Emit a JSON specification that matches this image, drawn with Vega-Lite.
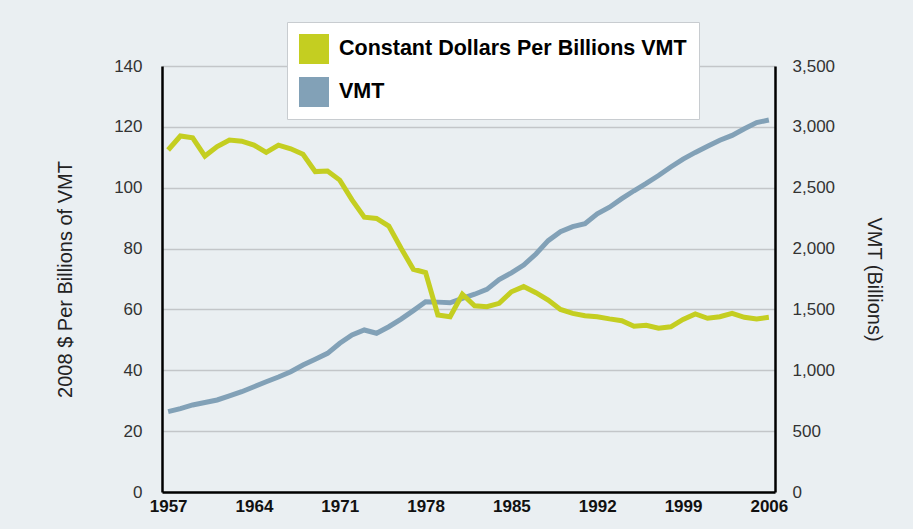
{
  "$schema": "https://vega.github.io/schema/vega-lite/v6.json",
  "autosize": "none",
  "width": 613,
  "height": 426,
  "padding": {"left": 162, "top": 66, "right": 138, "bottom": 37},
  "background": "#eaeff2",
  "config": {
    "view": {"stroke": null},
    "font": "Liberation Sans",
    "axis": {"labelFont": "Liberation Sans", "titleFont": "Liberation Sans"}
  },
  "datasets": {
    "cost": [
      {"year": 1957, "value": 112.4}, {"year": 1958, "value": 117.0}, {"year": 1959, "value": 116.4},
      {"year": 1960, "value": 110.4}, {"year": 1961, "value": 113.5}, {"year": 1962, "value": 115.7},
      {"year": 1963, "value": 115.3}, {"year": 1964, "value": 114.0}, {"year": 1965, "value": 111.6},
      {"year": 1966, "value": 114.0}, {"year": 1967, "value": 112.8}, {"year": 1968, "value": 111.0},
      {"year": 1969, "value": 105.3}, {"year": 1970, "value": 105.5}, {"year": 1971, "value": 102.5},
      {"year": 1972, "value": 96.0}, {"year": 1973, "value": 90.3}, {"year": 1974, "value": 89.9},
      {"year": 1975, "value": 87.4}, {"year": 1976, "value": 80.1}, {"year": 1977, "value": 73.2},
      {"year": 1978, "value": 72.1}, {"year": 1979, "value": 58.2}, {"year": 1980, "value": 57.6},
      {"year": 1981, "value": 65.0}, {"year": 1982, "value": 61.2}, {"year": 1983, "value": 60.9},
      {"year": 1984, "value": 62.0}, {"year": 1985, "value": 65.8}, {"year": 1986, "value": 67.5},
      {"year": 1987, "value": 65.5}, {"year": 1988, "value": 63.1}, {"year": 1989, "value": 60.0},
      {"year": 1990, "value": 58.7}, {"year": 1991, "value": 57.9}, {"year": 1992, "value": 57.6},
      {"year": 1993, "value": 56.9}, {"year": 1994, "value": 56.3}, {"year": 1995, "value": 54.5},
      {"year": 1996, "value": 54.8}, {"year": 1997, "value": 53.8}, {"year": 1998, "value": 54.3},
      {"year": 1999, "value": 56.7}, {"year": 2000, "value": 58.5}, {"year": 2001, "value": 57.1},
      {"year": 2002, "value": 57.6}, {"year": 2003, "value": 58.7}, {"year": 2004, "value": 57.4},
      {"year": 2005, "value": 56.9}, {"year": 2006, "value": 57.4}
    ],
    "vmt": [
      {"year": 1957, "value": 660}, {"year": 1958, "value": 685}, {"year": 1959, "value": 715},
      {"year": 1960, "value": 735}, {"year": 1961, "value": 756}, {"year": 1962, "value": 790},
      {"year": 1963, "value": 824}, {"year": 1964, "value": 865}, {"year": 1965, "value": 906},
      {"year": 1966, "value": 945}, {"year": 1967, "value": 988}, {"year": 1968, "value": 1043},
      {"year": 1969, "value": 1090}, {"year": 1970, "value": 1139}, {"year": 1971, "value": 1222},
      {"year": 1972, "value": 1290}, {"year": 1973, "value": 1331}, {"year": 1974, "value": 1304},
      {"year": 1975, "value": 1358}, {"year": 1976, "value": 1420}, {"year": 1977, "value": 1490},
      {"year": 1978, "value": 1563}, {"year": 1979, "value": 1560}, {"year": 1980, "value": 1555},
      {"year": 1981, "value": 1591}, {"year": 1982, "value": 1625}, {"year": 1983, "value": 1665},
      {"year": 1984, "value": 1745}, {"year": 1985, "value": 1800}, {"year": 1986, "value": 1865},
      {"year": 1987, "value": 1955}, {"year": 1988, "value": 2065}, {"year": 1989, "value": 2139},
      {"year": 1990, "value": 2180}, {"year": 1991, "value": 2205}, {"year": 1992, "value": 2285},
      {"year": 1993, "value": 2340}, {"year": 1994, "value": 2410}, {"year": 1995, "value": 2475},
      {"year": 1996, "value": 2535}, {"year": 1997, "value": 2600}, {"year": 1998, "value": 2670},
      {"year": 1999, "value": 2735}, {"year": 2000, "value": 2790}, {"year": 2001, "value": 2840},
      {"year": 2002, "value": 2890}, {"year": 2003, "value": 2930}, {"year": 2004, "value": 2985},
      {"year": 2005, "value": 3035}, {"year": 2006, "value": 3056}
    ]
  },
  "encoding": {
    "x": {
      "field": "year",
      "type": "quantitative",
      "scale": {"domain": [1956.5, 2006.5], "nice": false, "zero": false},
      "axis": {
        "title": null,
        "values": [1957, 1964, 1971, 1978, 1985, 1992, 1999, 2006],
        "format": "d",
        "grid": false,
        "ticks": false,
        "tickSize": 0,
        "labelPadding": 6,
        "labelFontSize": 17,
        "labelFontWeight": "bold",
        "labelColor": "#111111",
        "domainColor": "#000000",
        "domainWidth": 2.5
      }
    }
  },
  "layer": [
    {
      "data": {"name": "vmt"},
      "mark": {"type": "line", "strokeWidth": 5},
      "encoding": {
        "y": {
          "field": "value",
          "type": "quantitative",
          "scale": {"domain": [0, 3500], "nice": false},
          "axis": {
            "orient": "right",
            "title": "VMT (Billions)",
            "values": [0, 500, 1000, 1500, 2000, 2500, 3000, 3500],
            "format": ",d",
            "grid": false,
            "ticks": false,
            "tickSize": 0,
            "labelPadding": 17,
            "labelFontSize": 17,
            "labelColor": "#333333",
            "titleFontSize": 20,
            "titleFontWeight": "normal",
            "titleColor": "#222222",
            "titlePadding": 29,
            "domainColor": "#000000",
            "domainWidth": 2.5
          }
        },
        "color": {"datum": "VMT"}
      }
    },
    {
      "data": {"name": "cost"},
      "mark": {"type": "line", "strokeWidth": 5},
      "encoding": {
        "y": {
          "field": "value",
          "type": "quantitative",
          "scale": {"domain": [0, 140], "nice": false},
          "axis": {
            "orient": "left",
            "title": "2008 $ Per Billions of VMT",
            "values": [0, 20, 40, 60, 80, 100, 120, 140],
            "grid": true,
            "gridColor": "#c3c6c9",
            "gridWidth": 1.5,
            "ticks": false,
            "tickSize": 0,
            "labelPadding": 20,
            "labelFontSize": 17,
            "labelColor": "#333333",
            "titleFontSize": 20,
            "titleFontWeight": "normal",
            "titleColor": "#222222",
            "titlePadding": 38,
            "domainColor": "#000000",
            "domainWidth": 2.5
          }
        },
        "color": {
          "datum": "Constant Dollars Per Billions VMT",
          "scale": {
            "domain": ["Constant Dollars Per Billions VMT", "VMT"],
            "range": ["#c4ce21", "#82a1b7"]
          },
          "legend": {
            "title": null,
            "orient": "none",
            "legendX": 125,
            "legendY": -44,
            "direction": "vertical",
            "fillColor": "#ffffff",
            "strokeColor": "#c8ccd0",
            "padding": 12,
            "symbolType": "square",
            "symbolSize": 900,
            "symbolStrokeWidth": 0,
            "labelFontSize": 21.5,
            "labelFontWeight": "bold",
            "labelColor": "#000000",
            "labelOffset": 10,
            "labelLimit": 500,
            "rowPadding": 13,
            "encode": {
              "symbols": {
                "update": {
                  "fill": {"scale": "color", "field": "value"},
                  "strokeWidth": {"value": 0}
                }
              }
            }
          }
        }
      }
    }
  ],
  "resolve": {"scale": {"y": "independent"}}
}
